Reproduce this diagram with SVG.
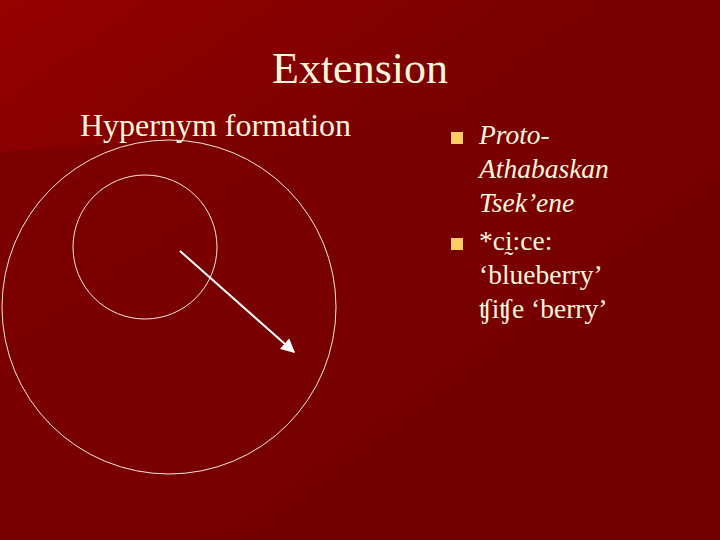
<svg xmlns="http://www.w3.org/2000/svg" width="720" height="540" viewBox="0 0 720 540">
<defs>
<linearGradient id="bg" x1="0" y1="0" x2="1" y2="1">
<stop offset="0" stop-color="#7e0000"/>
<stop offset="1" stop-color="#720000"/>
</linearGradient>
<linearGradient id="wedge" x1="0" y1="0" x2="1" y2="0.3">
<stop offset="0" stop-color="#960000"/>
<stop offset="0.6" stop-color="#7e0000"/>
<stop offset="1" stop-color="#780000" stop-opacity="0"/>
</linearGradient>
<marker id="ah" viewBox="0 0 10 10" refX="9" refY="5" markerWidth="7" markerHeight="7" orient="auto">
<path d="M0,0 L10,5 L0,10 z" fill="#ffffff"/>
</marker>
<style>
.t{font-family:"Liberation Serif","Times New Roman",serif;fill:#fff5dc}
.c{fill:none;stroke:#f4e8d8;stroke-width:1}
.b{fill:#ffcc66}
</style>
</defs>
<rect width="720" height="540" fill="url(#bg)"/>
<polygon points="0,0 720,0 720,95 0,152" fill="url(#wedge)"/>
<text class="t" x="360" y="83" font-size="44" text-anchor="middle">Extension</text>
<text class="t" x="80" y="136" font-size="32">Hypernym formation</text>
<g id="outer"><circle class="c" cx="169" cy="307" r="167"/></g>
<g id="inner"><circle class="c" cx="145" cy="247" r="72"/></g>
<g id="connectors"><line x1="180" y1="251" x2="294" y2="352" stroke="#ffffff" stroke-width="2" marker-end="url(#ah)"/></g>
<g id="bullets">
<rect class="b" x="451" y="132" width="12" height="12"/>
<text class="t" x="479" y="144" font-size="27.5" font-style="italic">Proto-</text>
<text class="t" x="479" y="178" font-size="27.5" font-style="italic">Athabaskan</text>
<text class="t" x="479" y="212" font-size="27.5" font-style="italic">Tsek’ene</text>
<rect class="b" x="451" y="238" width="12" height="12"/>
<text class="t" x="479" y="250" font-size="27.5">*cḭ:ce:</text>
<text class="t" x="479" y="284" font-size="27.5">‘blueberry’</text>
<text class="t" x="479" y="318" font-size="27.5">ʧiʧe ‘berry’</text>
</g>
</svg>
